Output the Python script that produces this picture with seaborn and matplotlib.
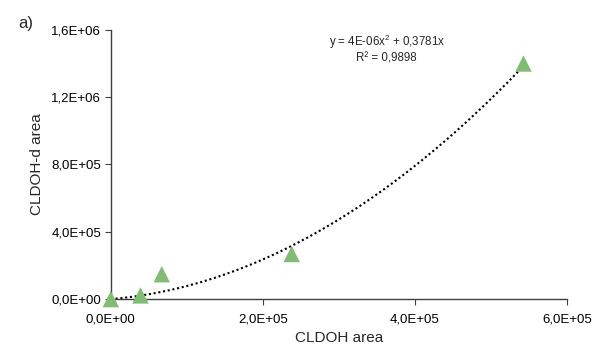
import numpy as np
import matplotlib
matplotlib.use("Agg")
import matplotlib.pyplot as plt
import matplotlib.ticker as mticker
import pandas as pd
import seaborn as sns

# --- data ---
cldoh_area = [0, 39000, 67000, 238000, 543000]
cldoh_d_area = [0, 22000, 148000, 268000, 1400000]
fit_a = 4e-06
fit_b = 0.3781
eq_text = "y = 4E-06x$^2$ + 0,3781x"
r2_text = "R² = 0,9898"
x_ticks = [0, 2e5, 4e5, 6e5]
y_ticks = [0, 4e5, 8e5, 1.2e6, 1.6e6]

sns.set_style("ticks")
plt.rcParams['font.family'] = ['Liberation Sans', 'DejaVu Sans']
plt.rcParams['mathtext.fontset'] = 'custom'
plt.rcParams['mathtext.rm'] = 'Liberation Sans'

df = pd.DataFrame({"CLDOH area": cldoh_area, "CLDOH-d area": cldoh_d_area})

fig = plt.figure(figsize=(5.96, 3.47), dpi=100)
ax = fig.add_axes([0.186, 0.138, 0.765, 0.776])

# trendline (2nd order polynomial through origin)
xs = np.linspace(0, max(cldoh_area), 200)
ax.plot(xs, fit_a * xs**2 + fit_b * xs, ls=(0, (1, 1.3)), color="black", lw=1.5, zorder=2)

sns.scatterplot(data=df, x="CLDOH area", y="CLDOH-d area", marker="^", s=140,
                color="#82bb73", edgecolor="none", ax=ax, zorder=3, clip_on=False)

ax.set_xlim(0, 6e5)
ax.set_ylim(0, 1.6e6)
ax.set_xticks(x_ticks)
ax.set_yticks(y_ticks)

def sci_comma(v, pos):
    s = "%.1E" % v
    return s.replace(".", ",")

ax.xaxis.set_major_formatter(mticker.FuncFormatter(sci_comma))
ax.yaxis.set_major_formatter(mticker.FuncFormatter(sci_comma))
ax.tick_params(labelsize=9.5, length=4, width=0.8, color="#404040", labelcolor="black", pad=3)
ax.tick_params(axis="x", pad=6)
ax.set_xlabel("CLDOH area", fontsize=11, labelpad=4)
ax.set_ylabel("CLDOH-d area", fontsize=11, labelpad=5)
for side in ["left", "bottom"]:
    ax.spines[side].set_color("#404040")
    ax.spines[side].set_linewidth(1.0)
sns.despine(ax=ax)

ax.text(0.605, 0.87, eq_text + "\n" + r2_text, transform=ax.transAxes,
        fontsize=8.3, ha="center", va="bottom", linespacing=1.15)
fig.text(0.03, 0.92, "a)", fontsize=12)

fig.savefig("out.png", dpi=100)
